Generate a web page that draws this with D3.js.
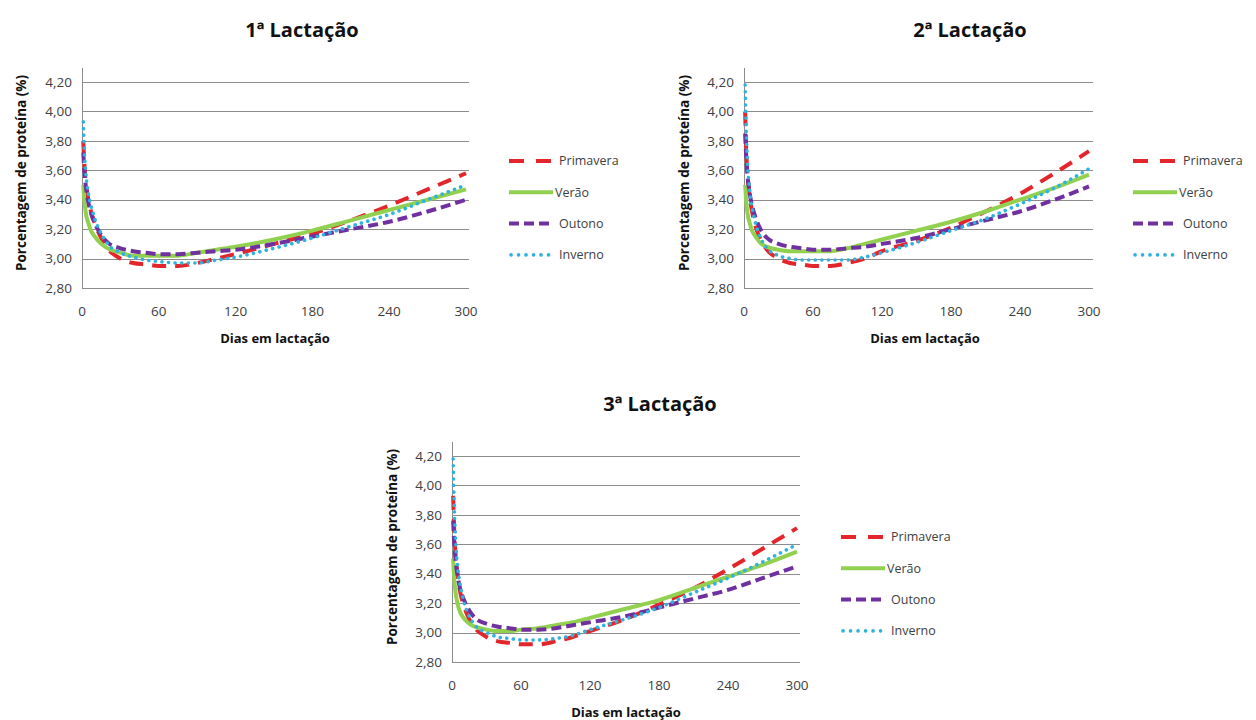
<!DOCTYPE html>
<html>
<head>
<meta charset="utf-8">
<script src="https://cdn.jsdelivr.net/npm/d3@7"></script>
<style>
  body { margin: 0; background: #fff; }
  svg { display: block; }
  text { font-family: "Open Sans", "Liberation Sans", sans-serif; }
</style>
</head>
<body>
<div id="chart"></div>
<script>
// Days in lactation sampled along the curves
const days = [1, 2, 3, 5, 7, 10, 15, 20, 30, 40, 50, 60, 75, 90, 105, 120, 150, 180, 210, 240, 270, 300];

const seasons = ["Primavera", "Verão", "Outono", "Inverno"];
const xTicks = [0, 60, 120, 180, 240, 300];
const yTicks = [2.8, 3.0, 3.2, 3.4, 3.6, 3.8, 4.0, 4.2];

// 1ª Lactação
const lac1Primavera = [3.80, 3.62, 3.52, 3.40, 3.32, 3.24, 3.14, 3.07, 3.00, 2.97, 2.96, 2.95, 2.95, 2.97, 3.00, 3.03, 3.10, 3.17, 3.26, 3.36, 3.47, 3.58];
const lac1Verao     = [3.50, 3.38, 3.31, 3.24, 3.19, 3.15, 3.10, 3.07, 3.04, 3.02, 3.02, 3.02, 3.02, 3.04, 3.06, 3.08, 3.13, 3.19, 3.26, 3.33, 3.40, 3.47];
const lac1Outono    = [3.72, 3.58, 3.49, 3.38, 3.31, 3.24, 3.16, 3.11, 3.07, 3.05, 3.04, 3.03, 3.03, 3.04, 3.05, 3.06, 3.10, 3.15, 3.20, 3.25, 3.32, 3.40];
const lac1Inverno   = [3.93, 3.70, 3.58, 3.44, 3.36, 3.27, 3.17, 3.10, 3.04, 3.01, 2.99, 2.98, 2.97, 2.97, 2.99, 3.01, 3.07, 3.14, 3.22, 3.30, 3.40, 3.50];

// 2ª Lactação
const lac2Primavera = [4.00, 3.72, 3.58, 3.42, 3.32, 3.22, 3.12, 3.06, 3.00, 2.97, 2.96, 2.95, 2.95, 2.97, 3.00, 3.05, 3.12, 3.21, 3.32, 3.44, 3.58, 3.73];
const lac2Verao     = [3.50, 3.38, 3.31, 3.24, 3.19, 3.15, 3.10, 3.08, 3.06, 3.05, 3.05, 3.05, 3.05, 3.07, 3.10, 3.13, 3.19, 3.25, 3.32, 3.40, 3.48, 3.57];
const lac2Outono    = [3.85, 3.68, 3.57, 3.44, 3.36, 3.28, 3.19, 3.14, 3.10, 3.08, 3.07, 3.06, 3.06, 3.07, 3.08, 3.10, 3.14, 3.20, 3.26, 3.32, 3.40, 3.49];
const lac2Inverno   = [4.18, 3.85, 3.66, 3.46, 3.35, 3.24, 3.13, 3.07, 3.02, 3.00, 2.99, 2.99, 2.99, 2.99, 3.01, 3.04, 3.11, 3.19, 3.27, 3.37, 3.48, 3.61];

// 3ª Lactação
const lac3Primavera = [3.93, 3.68, 3.54, 3.38, 3.28, 3.19, 3.09, 3.03, 2.97, 2.94, 2.93, 2.92, 2.92, 2.94, 2.97, 3.01, 3.09, 3.19, 3.30, 3.43, 3.57, 3.71];
const lac3Verao     = [3.50, 3.36, 3.28, 3.19, 3.14, 3.10, 3.06, 3.04, 3.02, 3.01, 3.01, 3.02, 3.03, 3.05, 3.07, 3.10, 3.16, 3.22, 3.30, 3.38, 3.46, 3.55];
const lac3Outono    = [3.76, 3.60, 3.50, 3.38, 3.30, 3.23, 3.15, 3.10, 3.06, 3.04, 3.03, 3.02, 3.02, 3.03, 3.05, 3.07, 3.11, 3.17, 3.23, 3.29, 3.37, 3.45];
const lac3Inverno   = [4.18, 3.85, 3.65, 3.44, 3.33, 3.22, 3.11, 3.05, 3.00, 2.97, 2.96, 2.95, 2.95, 2.96, 2.98, 3.02, 3.09, 3.17, 3.27, 3.37, 3.48, 3.60];

// line styles per season
const styles = {
  "Primavera": {color: "#e3262b", dash: "14,9", width: 4, cap: "butt", legendDash: "15,12"},
  "Verão":     {color: "#92d050", dash: null,   width: 4, cap: "butt", legendDash: null},
  "Outono":    {color: "#7030a0", dash: "10,5", width: 4, cap: "butt", legendDash: "10,5"},
  "Inverno":   {color: "#31b2dc", dash: "0.1,6.5", width: 3.6, cap: "round", legendDash: "0.1,7.4"}
};

const panels = [
  {title: "1ª Lactação", series: [lac1Primavera, lac1Verao, lac1Outono, lac1Inverno],
   x0: 82, x1: 466, gridRight: 469, yTop: 82, yBottom: 288, axisTop: 68,
   titleX: 302, titleY: 37, yTitleX: 21, xTitleX: 275, xTitleY: 338, legX: 509, legY: 161},
  {title: "2ª Lactação", series: [lac2Primavera, lac2Verao, lac2Outono, lac2Inverno],
   x0: 744, x1: 1089, gridRight: 1093, yTop: 82, yBottom: 288, axisTop: 68,
   titleX: 970, titleY: 37, yTitleX: 684, xTitleX: 925, xTitleY: 338, legX: 1133, legY: 161},
  {title: "3ª Lactação", series: [lac3Primavera, lac3Verao, lac3Outono, lac3Inverno],
   x0: 452, x1: 797, gridRight: 800, yTop: 456, yBottom: 662, axisTop: 442,
   titleX: 660, titleY: 411, yTitleX: 392, xTitleX: 626, xTitleY: 712, legX: 841, legY: 537}
];

const svg = d3.select("#chart").append("svg")
  .attr("width", 1256)
  .attr("height", 720);

const fmt = d => d.toFixed(2).replace(".", ",");

panels.forEach(p => {
  const g = svg.append("g");

  const x = d3.scaleLinear().domain([0, 300]).range([p.x0, p.x1]);
  const y = d3.scaleLinear().domain([2.8, 4.2]).range([p.yBottom, p.yTop]);

  // title
  g.append("text")
    .attr("x", p.titleX)
    .attr("y", p.titleY)
    .attr("text-anchor", "middle")
    .style("font-size", "20px")
    .style("font-weight", "bold")
    .style("fill", "#111")
    .text(p.title);

  // gridlines
  g.selectAll(".grid")
    .data(yTicks)
    .join("line")
    .attr("x1", p.x0)
    .attr("x2", p.gridRight)
    .attr("y1", d => Math.round(y(d)) + 0.5)
    .attr("y2", d => Math.round(y(d)) + 0.5)
    .attr("stroke", "#8c8c8c")
    .attr("stroke-width", 1);

  // vertical axis line
  g.append("line")
    .attr("x1", p.x0 + 0.5)
    .attr("x2", p.x0 + 0.5)
    .attr("y1", p.axisTop)
    .attr("y2", p.yBottom)
    .attr("stroke", "#8c8c8c");

  // y tick labels
  g.selectAll(".ylab")
    .data(yTicks)
    .join("text")
    .attr("x", p.x0 - 10)
    .attr("y", d => y(d))
    .attr("dy", "0.35em")
    .attr("text-anchor", "end")
    .style("font-size", "13.5px")
    .style("fill", "#404040")
    .text(fmt);

  // x tick labels
  g.selectAll(".xlab")
    .data(xTicks)
    .join("text")
    .attr("x", d => x(d))
    .attr("y", p.yBottom + 23)
    .attr("dy", "0.35em")
    .attr("text-anchor", "middle")
    .style("font-size", "13.5px")
    .style("fill", "#404040")
    .text(d => d);

  // axis titles
  g.append("text")
    .attr("transform", `translate(${p.yTitleX},${(p.yTop + p.yBottom) / 2 - 12}) rotate(-90)`)
    .attr("text-anchor", "middle")
    .attr("dy", "0.35em")
    .style("font-size", "13.5px")
    .style("font-weight", "bold")
    .style("fill", "#111")
    .text("Porcentagem de proteína (%)");

  g.append("text")
    .attr("x", p.xTitleX)
    .attr("y", p.xTitleY)
    .attr("text-anchor", "middle")
    .attr("dy", "0.35em")
    .style("font-size", "13px")
    .style("font-weight", "bold")
    .style("fill", "#111")
    .text("Dias em lactação");

  // curves
  const line = d3.line()
    .x(d => x(d[0]))
    .y(d => y(d[1]))
    .curve(d3.curveMonotoneX);

  seasons.forEach((s, i) => {
    const st = styles[s];
    const pts = days.map((d, j) => [d, p.series[i][j]]);
    g.append("path")
      .datum(pts)
      .attr("fill", "none")
      .attr("stroke", st.color)
      .attr("stroke-width", st.width)
      .attr("stroke-dasharray", st.dash)
      .attr("stroke-linecap", st.cap)
      .attr("d", line);
  });

  // legend
  const leg = g.append("g").attr("transform", `translate(${p.legX},${p.legY})`);
  seasons.forEach((s, i) => {
    const st = styles[s];
    const row = leg.append("g").attr("transform", `translate(0,${i * 31.3})`);
    row.append("line")
      .attr("x1", s === "Inverno" ? 2 : 0)
      .attr("x2", s === "Inverno" ? 42 : 44)
      .attr("stroke", st.color)
      .attr("stroke-width", st.width)
      .attr("stroke-dasharray", st.legendDash)
      .attr("stroke-linecap", st.cap);
    row.append("text")
      .attr("x", s === "Verão" ? 46 : 50)
      .attr("dy", "0.35em")
      .style("font-size", "12.5px")
      .style("fill", "#404040")
      .text(s);
  });
});
</script>
</body>
</html>
